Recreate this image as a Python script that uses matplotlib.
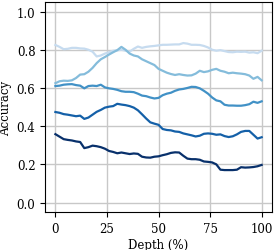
import numpy as np
import matplotlib
matplotlib.use("Agg")
import matplotlib.pyplot as plt

# profundidad relativa (%)
depth = np.arange(0, 101, 2)

acc_1 = [0.825, 0.815, 0.803, 0.805, 0.810, 0.810, 0.807, 0.806, 0.800, 0.790,
         0.765, 0.770, 0.780, 0.787, 0.795, 0.797, 0.800, 0.795, 0.790, 0.805,
         0.817, 0.810, 0.815, 0.818, 0.820, 0.823, 0.826, 0.826, 0.827, 0.828,
         0.828, 0.835, 0.832, 0.826, 0.826, 0.825, 0.820, 0.812, 0.800, 0.795,
         0.798, 0.793, 0.788, 0.787, 0.790, 0.789, 0.790, 0.785, 0.787, 0.782,
         0.795]
acc_2 = [0.625, 0.635, 0.638, 0.637, 0.640, 0.652, 0.670, 0.672, 0.685, 0.705,
         0.730, 0.750, 0.762, 0.775, 0.787, 0.798, 0.815, 0.800, 0.780, 0.770,
         0.765, 0.750, 0.740, 0.730, 0.720, 0.700, 0.690, 0.680, 0.673, 0.668,
         0.672, 0.668, 0.665, 0.666, 0.675, 0.690, 0.683, 0.687, 0.695, 0.700,
         0.690, 0.685, 0.677, 0.680, 0.677, 0.675, 0.672, 0.665, 0.648, 0.658,
         0.640]
acc_3 = [0.610, 0.612, 0.617, 0.619, 0.620, 0.615, 0.612, 0.598, 0.610, 0.612,
         0.610, 0.617, 0.603, 0.598, 0.595, 0.590, 0.583, 0.580, 0.580, 0.578,
         0.570, 0.560, 0.557, 0.550, 0.545, 0.548, 0.562, 0.570, 0.575, 0.585,
         0.592, 0.595, 0.600, 0.606, 0.605, 0.598, 0.585, 0.570, 0.550, 0.535,
         0.530, 0.512, 0.508, 0.508, 0.507, 0.507, 0.510, 0.515, 0.528, 0.522,
         0.530]
acc_4 = [0.474, 0.470, 0.463, 0.460, 0.456, 0.452, 0.455, 0.438, 0.445, 0.460,
         0.475, 0.485, 0.497, 0.502, 0.505, 0.517, 0.513, 0.510, 0.505, 0.497,
         0.483, 0.462, 0.440, 0.420, 0.413, 0.407, 0.385, 0.380, 0.378, 0.372,
         0.370, 0.362, 0.357, 0.352, 0.346, 0.350, 0.360, 0.362, 0.360, 0.355,
         0.357, 0.348, 0.343, 0.347, 0.357, 0.370, 0.375, 0.375, 0.355, 0.335,
         0.342]
acc_5 = [0.358, 0.345, 0.332, 0.328, 0.325, 0.320, 0.317, 0.285, 0.290, 0.298,
         0.295, 0.290, 0.282, 0.270, 0.265, 0.258, 0.262, 0.258, 0.254, 0.257,
         0.255, 0.240, 0.236, 0.235, 0.240, 0.242, 0.248, 0.253, 0.260, 0.263,
         0.262, 0.245, 0.230, 0.227, 0.227, 0.224, 0.215, 0.213, 0.210, 0.200,
         0.172, 0.170, 0.170, 0.170, 0.172, 0.185, 0.183, 0.184, 0.186, 0.190,
         0.197]

series = [acc_1, acc_2, acc_3, acc_4, acc_5]
colores = plt.cm.Blues(np.linspace(0.25, 1.0, len(series)))

plt.rcParams['font.family'] = ['DejaVu Serif']
plt.rcParams['font.size'] = 8.5

fig, ax = plt.subplots(figsize=(2.75, 2.51), dpi=100)
fig.subplots_adjust(left=0.164, right=0.989, bottom=0.151, top=0.988)

for vals, c in zip(series, colores):
    ax.plot(depth, vals, color=c, lw=1.6)

ax.set_ylim(-0.05, 1.05)
ax.set_xlim(-5, 105)
ax.set_xticks([0, 25, 50, 75, 100])
ax.set_yticks([0.0, 0.2, 0.4, 0.6, 0.8, 1.0])
ax.grid(True, color='#c8c8c8', lw=1.0)
ax.set_axisbelow(True)
ax.set_xlabel('Depth (%)', labelpad=2)
ax.set_ylabel('Accuracy', labelpad=3)

fig.savefig('out.png', dpi=100)
